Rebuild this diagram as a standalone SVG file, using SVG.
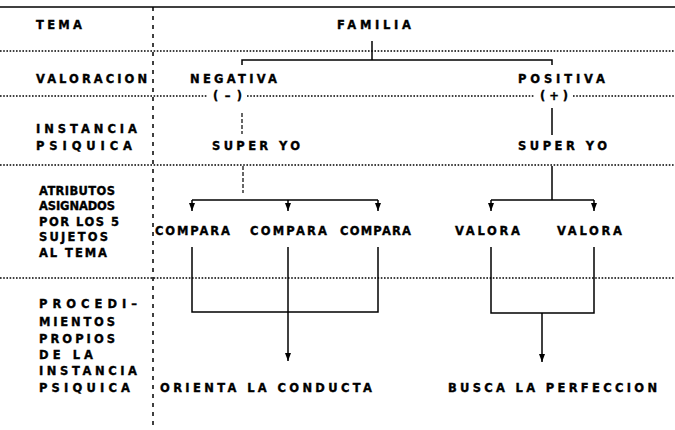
<svg xmlns="http://www.w3.org/2000/svg" width="675" height="430" viewBox="0 0 675 430">
<defs>
<style>
text{font-family:"DejaVu Sans","Liberation Sans",sans-serif;font-weight:bold;font-size:11.5px;fill:#000;stroke:#000;stroke-width:0.35}
.grid{stroke:#000;stroke-width:1.5;stroke-dasharray:1.6,1.6;fill:none}
.vgrid{stroke:#000;stroke-width:1.5;stroke-dasharray:4,5;fill:none}
.ln{stroke:#000;stroke-width:1.5;fill:none}
.dl{stroke:#000;stroke-width:1.2;stroke-dasharray:4,2;fill:none}
</style>
<marker id="ah2" markerUnits="userSpaceOnUse" markerWidth="6" markerHeight="8" refX="3" refY="8" orient="0" viewBox="0 0 6 8">
<path d="M0,0 L6,0 L3,8 Z" fill="#000"/>
</marker>
</defs>
<rect width="675" height="430" fill="#fff"/>

<g id="grid">
<line class="ln" x1="0" y1="7" x2="675" y2="7" stroke-width="2"/>
<line class="vgrid" x1="153" y1="7" x2="153" y2="430"/>
<line class="grid" x1="0" y1="51" x2="675" y2="51"/>
<line class="grid" x1="0" y1="96" x2="208" y2="96"/>
<line class="grid" x1="247" y1="96" x2="535" y2="96"/>
<line class="grid" x1="573" y1="96" x2="675" y2="96"/>
<line class="grid" x1="0" y1="165" x2="675" y2="165"/>
<line class="grid" x1="0" y1="278" x2="675" y2="278"/>
</g>

<g id="row-labels">
<text x="36" y="29" textLength="46" lengthAdjust="spacing">TEMA</text>
<text x="36" y="83" textLength="111" lengthAdjust="spacing">VALORACION</text>
<text x="36" y="133" textLength="101" lengthAdjust="spacing">INSTANCIA</text>
<text x="36" y="150" textLength="96" lengthAdjust="spacing">PSIQUICA</text>
<text x="39" y="195" textLength="76" lengthAdjust="spacing">ATRIBUTOS</text>
<text x="39" y="210" textLength="76" lengthAdjust="spacing">ASIGNADOS</text>
<text x="39" y="226" textLength="80" lengthAdjust="spacing">POR LOS 5</text>
<text x="39" y="241" textLength="69" lengthAdjust="spacing">SUJETOS</text>
<text x="39" y="257" textLength="68" lengthAdjust="spacing">AL TEMA</text>
<text x="39" y="308" textLength="98" lengthAdjust="spacing">PROCEDI–</text>
<text x="39" y="326" textLength="76" lengthAdjust="spacing">MIENTOS</text>
<text x="39" y="343" textLength="76" lengthAdjust="spacing">PROPIOS</text>
<text x="39" y="359" textLength="54" lengthAdjust="spacing">DE LA</text>
<text x="39" y="375" textLength="98" lengthAdjust="spacing">INSTANCIA</text>
<text x="39" y="392" textLength="91" lengthAdjust="spacing">PSIQUICA</text>
</g>

<g id="familia"><text x="337" y="29" textLength="74" lengthAdjust="spacing">FAMILIA</text></g>
<g id="negativa">
<text x="190" y="83" textLength="87" lengthAdjust="spacing">NEGATIVA</text>
<text x="213" y="100" textLength="29" lengthAdjust="spacing">(–)</text>
</g>
<g id="positiva">
<text x="518" y="83" textLength="87" lengthAdjust="spacing">POSITIVA</text>
<text x="540" y="100" textLength="28" lengthAdjust="spacing">(+)</text>
</g>
<g id="superyo-neg"><text x="212" y="150" textLength="88" lengthAdjust="spacing">SUPER YO</text></g>
<g id="superyo-pos"><text x="518" y="150" textLength="89" lengthAdjust="spacing">SUPER YO</text></g>
<g id="compara-1"><text x="155" y="235" textLength="75" lengthAdjust="spacing">COMPARA</text></g>
<g id="compara-2"><text x="250" y="235" textLength="77" lengthAdjust="spacing">COMPARA</text></g>
<g id="compara-3"><text x="340" y="235" textLength="71" lengthAdjust="spacing">COMPARA</text></g>
<g id="valora-1"><text x="455" y="235" textLength="65" lengthAdjust="spacing">VALORA</text></g>
<g id="valora-2"><text x="557" y="235" textLength="65" lengthAdjust="spacing">VALORA</text></g>
<g id="orienta"><text x="160" y="392" textLength="212" lengthAdjust="spacing">ORIENTA LA CONDUCTA</text></g>
<g id="busca"><text x="448" y="392" textLength="209" lengthAdjust="spacing">BUSCA LA PERFECCION</text></g>

<g id="connectors">
<line class="ln" x1="372" y1="41" x2="372" y2="60"/>
<polyline class="ln" points="242,65 242,60 552,60 552,65"/>
<line class="dl" x1="242" y1="113" x2="242" y2="134"/>
<line class="ln" x1="552" y1="108" x2="552" y2="135"/>

<line class="dl" x1="243" y1="166" x2="243" y2="193"/>
<line class="ln" x1="192" y1="200" x2="378" y2="200"/>
<line class="ln" x1="192" y1="200" x2="192" y2="211" marker-end="url(#ah2)"/>
<line class="ln" x1="288" y1="200" x2="288" y2="211" marker-end="url(#ah2)"/>
<line class="ln" x1="378" y1="200" x2="378" y2="211" marker-end="url(#ah2)"/>

<line class="ln" x1="552" y1="166" x2="552" y2="200"/>
<line class="ln" x1="491" y1="200" x2="594" y2="200"/>
<line class="ln" x1="491" y1="200" x2="491" y2="211" marker-end="url(#ah2)"/>
<line class="ln" x1="594" y1="200" x2="594" y2="211" marker-end="url(#ah2)"/>

<polyline class="ln" points="192,247 192,312 378,312 378,247"/>
<line class="ln" x1="288" y1="247" x2="288" y2="361" marker-end="url(#ah2)"/>
<polyline class="ln" points="491,247 491,313 594,313 594,247"/>
<line class="ln" x1="542" y1="313" x2="542" y2="362" marker-end="url(#ah2)"/>
</g>
</svg>
